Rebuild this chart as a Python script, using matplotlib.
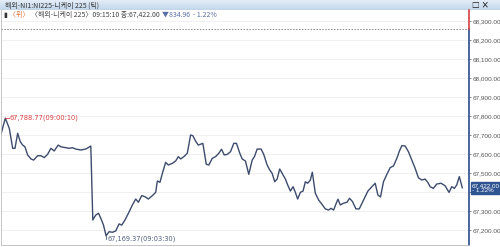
import matplotlib
matplotlib.use("Agg")
import matplotlib.pyplot as plt
import numpy as np

plt.rcParams['font.family'] = ['Noto Sans CJK KR', 'DejaVu Sans']

# tick index (x) and price (y)
ticks = [0, 4.3, 8.3, 11.7, 14, 16.7, 19.3, 21.7, 24, 26.7, 30, 32.7, 36.7, 40, 43.3,
         46.7, 50, 53.3, 57.3, 60, 65, 68.3, 71.7, 75, 80, 85, 90, 92, 95, 97.7,
         100, 102.7, 105.3, 108.3, 111.7, 115, 118.3, 121, 124.3, 127.7, 131.7, 135,
         137.7, 141, 144.3, 147.7, 151.7, 155, 156.7, 159.3, 161.7, 165, 167.7, 171.7,
         175, 177.7, 180, 183.3, 186.7, 190, 192.3, 195, 197.7, 202.3, 205.7, 208.3,
         211.7, 215, 218.3, 221, 223.7, 226.7, 230, 233.3, 236, 239.3, 241.7, 245,
         248.3, 251.7, 254, 256.7, 260.7, 263.3, 266.7, 269.3, 271.7, 274.3, 276.7,
         279.3, 282.7, 285, 287.3, 290, 292.7, 295, 297.3, 300, 302.7, 305, 307.3,
         310, 312, 315, 318.3, 321.7, 325, 328.3, 330.7, 333.3, 336, 337.7, 340,
         343.3, 346.7, 349.3, 352.3, 355.7, 359, 363.3, 367.7, 371.7, 375, 377.7,
         380.3, 383.3, 386.7, 390, 393.3, 396.7, 399, 401.7, 405, 408.3, 411.7, 415,
         418.3, 421.7, 425, 427.7, 430, 433.3, 436.7, 441, 445, 449, 451.7, 454.3,
         456.7, 459.3, 462.3]
prices = [67704, 67788.77, 67735, 67630, 67630, 67709, 67665, 67647, 67638, 67595,
          67574, 67568, 67591, 67591, 67581, 67598, 67630, 67616, 67647, 67638, 67633,
          67630, 67633, 67626, 67621, 67626, 67642, 67253, 67279, 67288, 67262, 67226,
          67169.37, 67191, 67188, 67195, 67232, 67226, 67253, 67288, 67332, 67363,
          67346, 67381, 67375, 67363, 67381, 67398, 67458, 67451, 67498, 67556, 67542,
          67551, 67563, 67586, 67574, 67586, 67604, 67700, 67696, 67668, 67647, 67656,
          67546, 67542, 67577, 67586, 67604, 67625, 67595, 67598, 67612, 67656, 67656,
          67604, 67574, 67563, 67493, 67568, 67586, 67626, 67626, 67598, 67542, 67516,
          67498, 67454, 67468, 67521, 67489, 67468, 67437, 67405, 67428, 67398, 67363,
          67398, 67405, 67454, 67446, 67463, 67504, 67393, 67358, 67335, 67311, 67305,
          67314, 67305, 67341, 67362, 67332, 67341, 67346, 67367, 67349, 67311, 67311,
          67358, 67405, 67428, 67446, 67384, 67374, 67454, 67493, 67528, 67537, 67577,
          67612, 67644, 67642, 67612, 67568, 67525, 67475, 67463, 67468, 67451, 67428,
          67419, 67442, 67446, 67433, 67398, 67428, 67419, 67437, 67481, 67422]
prev_close = 68256.96
y_ticks = [67200, 67300, 67400, 67500, 67600, 67700, 67800, 67900, 68000, 68100, 68200, 68300]
max_label = "67,788.77(09:00:10)"
min_label = "67,169.37(09:03:30)"
title = "해외-NI1:NI225-니케이 225 (틱)"

W, H = 500, 247
fig = plt.figure(figsize=(W / 100, H / 100), dpi=100)

# title bar
bar = fig.add_axes([0, 1 - 10 / H, 1, 10 / H])
cm = matplotlib.colors.LinearSegmentedColormap.from_list('b', ['#e4eef8', '#c2d6ea'])
bar.imshow(np.linspace(0, 1, 20).reshape(-1, 1), aspect='auto', cmap=cm, extent=[0, 1, 0, 1])
bar.set_axis_off()
bar.text(0.01, 0.45, title, fontsize=5, color='#333333', va='center')
bar.text(0.945, 0.45, "□ ×", fontsize=5.5, color='#222222', va='center', fontweight='bold')

ax = fig.add_axes([0.002, 2 / H, 469 / W - 0.002, 235 / H])
ax.plot(ticks, prices, color='#3d4b6d', lw=1.0)
ax.set_xlim(0, 469)
ax.set_ylim(67121, 68358)
ax.axhline(prev_close, color='#888888', lw=0.7, ls=(0, (1.5, 1.5)))
for v in y_ticks:
    ax.axhline(v, color='#eeeeee', lw=0.6, zorder=0)

# price labels; 67,400 sits under the current price box
ax.yaxis.tick_right()
ax.set_yticks(y_ticks)
ax.set_yticklabels(["" if v == 67400 else f"{v:,.2f}" for v in y_ticks], fontsize=4.6,
                   color='#555555', family='Liberation Sans')
ax.tick_params(axis='y', length=1.5, pad=0.8, color='#555555', width=0.5)
ax.set_xticks([])
for s in ['top', 'right']:
    ax.spines[s].set_visible(False)
for s in ['left', 'bottom']:
    ax.spines[s].set_color('#bbbbbb')
    ax.spines[s].set_linewidth(0.6)

# right axis line, red above previous close, blue below
tr = ax.get_yaxis_transform()
ax.plot([1, 1], [67121, prev_close], transform=tr, color='#2b4c8c', lw=1.2, clip_on=False)
ax.plot([1, 1], [prev_close, 68358], transform=tr, color='#d84040', lw=1.2, clip_on=False)

# max / min annotations
imax = int(np.argmax(prices))
imin = int(np.argmin(prices))
ax.plot([ticks[imax], ticks[imax] + 4], [prices[imax]] * 2, color='#d84040', lw=0.6)
ax.text(ticks[imax] + 4.5, prices[imax], max_label, fontsize=4.8, color='#d84040',
        va='center', family='DejaVu Sans')
ax.plot([ticks[imin], ticks[imin]], [prices[imin], prices[imin] - 18], color='#50607f', lw=0.6)
ax.text(ticks[imin] + 1.5, prices[imin] - 18, min_label, fontsize=4.8, color='#50607f',
        va='center', family='DejaVu Sans')

# current price box
ax.text(1.006, prices[-1], "67,422.00\n- 1.22%", transform=tr, fontsize=4.5, color='white',
        va='center', ha='left', linespacing=0.95, family='Liberation Sans',
        bbox=dict(boxstyle='square,pad=0.2', fc='#2f5492', ec='#2f5492'))

# info line
y_info = 1 - 15 / H
parts = [("▮ ", '#333333'), ("〈위〉 ", '#e07030'),
         ("〈해외-니케이 225〉09:15:10 종:67,422.00 ", '#444444'),
         ("▼834.96  - 1.22%", '#5a6fa8')]
x = 0.008
for s, c in parts:
    t = fig.text(x, y_info, s, fontsize=5, color=c, va='center')
    fig.canvas.draw()
    x = t.get_window_extent().x1 / W

fig.savefig("out.png", dpi=100)
